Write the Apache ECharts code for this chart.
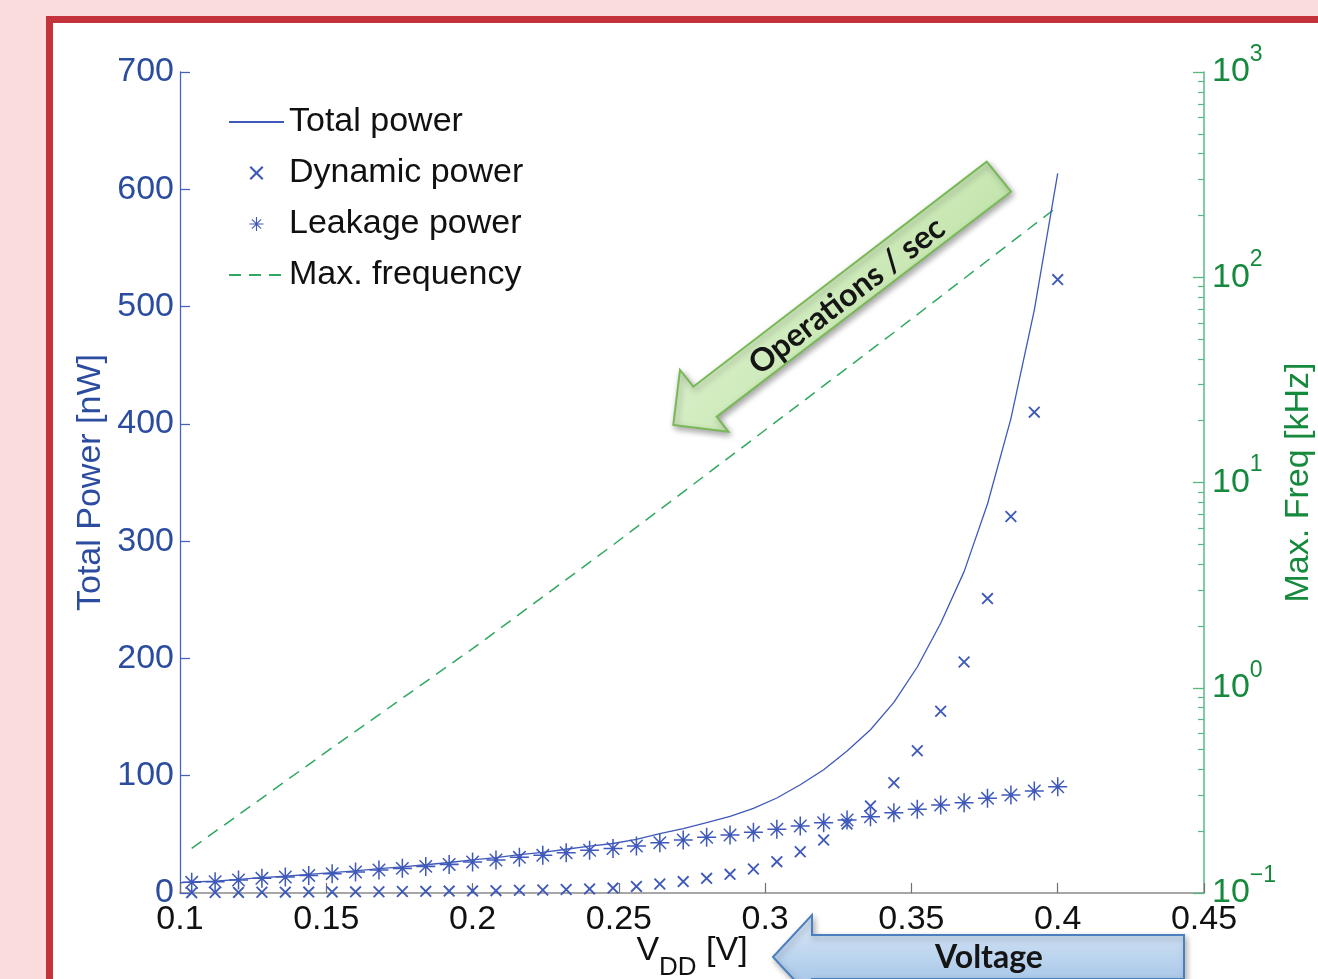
<!DOCTYPE html>
<html>
<head>
<meta charset="utf-8">
<script src="https://cdn.jsdelivr.net/npm/echarts@6/dist/echarts.min.js"></script>
<style>
  html, body { margin: 0; padding: 0; width: 1318px; height: 979px; overflow: hidden; background: #fbdcdc; }
  #frame { position: absolute; left: 46px; top: 16px; width: 1400px; height: 1100px; background: #ffffff; border: 7px solid #c4333b; box-sizing: border-box; }
  #chart { position: absolute; left: 0; top: 0; width: 1318px; height: 979px; }
</style>
</head>
<body>
<div id="frame"></div>
<div id="chart"></div>
<script>
// ---- data ----
const vdd = [0.104,0.112,0.120,0.128,0.136,0.144,0.152,0.160,0.168,0.176,0.184,0.192,0.200,0.208,0.216,0.224,0.232,0.240,0.248,0.256,0.264,0.272,0.280,0.288,0.296,0.304,0.312,0.320,0.328,0.336,0.344,0.352,0.360,0.368,0.376,0.384,0.392,0.400];
const dynamicPower = [0.3,0.4,0.5,0.6,0.7,0.8,0.9,1.0,1.1,1.3,1.4,1.6,1.8,2.0,2.3,2.6,3.0,3.5,4.2,5.6,7.7,9.7,12.5,15.9,20.5,26.7,35.2,45.2,58.8,74.2,94.0,121.3,155,197,251,321,410,523];
const leakagePower = [9.1,9.6,11.1,12.5,13.6,15.0,16.5,17.9,19.6,21.0,22.7,24.4,26.4,28.1,30.4,32.1,34.3,36.4,38.0,40.1,42.9,45.2,47.5,49.4,51.7,54.3,57.1,59.9,62.2,65.0,68.5,71.4,75.0,77.0,80.7,83.5,87.0,90.6];
const totalVdd = [0.100,0.104,0.112,0.120,0.128,0.136,0.144,0.152,0.160,0.168,0.176,0.184,0.192,0.200,0.208,0.216,0.224,0.232,0.240,0.248,0.256,0.264,0.272,0.280,0.288,0.296,0.304,0.312,0.320,0.328,0.336,0.344,0.352,0.360,0.368,0.376,0.384,0.392,0.400];
const totalPower = [8.6,9.4,10.0,11.6,13.1,14.3,15.8,17.4,18.9,20.7,22.3,24.1,26.0,28.2,30.1,32.7,34.7,37.3,39.9,42.2,45.7,50.6,54.9,60.0,65.3,72.2,81.0,92.3,105.1,121.0,139.2,162.5,192.7,230,274,331.7,404.5,497,613.6];
const freqVdd = [0.104,0.152,0.200,0.248,0.296,0.344,0.400];
const maxFreqKHz = [0.165,0.51,1.55,4.96,16.3,53.8,221];
const minorFreqTicks = [0.2,0.3,0.4,0.5,0.6,0.7,0.8,0.9,2,3,4,5,6,7,8,9,20,30,40,50,60,70,80,90,200,300,400,500,600,700,800,900];
const seriesNames = ['Total power','Dynamic power','Leakage power','Max. frequency'];
const xName = 'V';
const xNameSub = 'DD';
const xNameUnit = ' [V]';
const yLeftName = 'Total Power [nW]';
const yRightName = 'Max. Freq [kHz]';
const arrowLabels = ['Operations / sec', 'Voltage'];

const zip = (xs, ys) => xs.map((x, i) => [x, ys[i]]);

const BLUE = '#3f59ba';
const AXIS_BLUE = '#4a63c0';
const LABEL_BLUE = '#2b4c9f';
const GREEN_LINE = '#2fa862';
const AXIS_GREEN = '#58b882';
const LABEL_GREEN = '#15893c';
const FONT = '"Liberation Sans", Arial, sans-serif';

const xPath = 'path://M0,1.1L1.1,0L10,8.9L8.9,10Z M8.9,0L10,1.1L1.1,10L0,8.9Z';
const starPath = 'path://M0,9.2L20,9.2L20,10.8L0,10.8Z M9.2,0L10.8,0L10.8,20L9.2,20Z M2.9,4.0L4.0,2.9L17.1,16.0L16.0,17.1Z M16.0,2.9L17.1,4.0L4.0,17.1L2.9,16.0Z';

const chart = echarts.init(document.getElementById('chart'), null, { renderer: 'canvas' });

const option = {
  backgroundColor: 'transparent',
  animation: false,
  textStyle: { fontFamily: FONT },
  grid: { left: 180, right: 114, top: 72, bottom: 86, containLabel: false, outerBoundsMode: 'none' },
  legend: {
    orient: 'vertical',
    left: 223,
    top: 100,
    padding: 5,
    itemWidth: 55,
    itemHeight: 14,
    itemGap: 17,
    textStyle: { fontSize: 34, color: '#111', fontFamily: FONT, lineHeight: 34 },
    data: [
      { name: seriesNames[0] },
      { name: seriesNames[1], icon: xPath },
      { name: seriesNames[2], icon: starPath },
      { name: seriesNames[3] }
    ]
  },
  xAxis: {
    type: 'value',
    min: 0.1,
    max: 0.45,
    interval: 0.05,
    axisLine: { show: true, lineStyle: { color: '#8a8a8a', width: 1.5 } },
    axisTick: { show: true, inside: true, length: 10, lineStyle: { color: '#707070', width: 1.2 } },
    splitLine: { show: false },
    axisLabel: { color: '#111', fontSize: 34, fontFamily: FONT, margin: 10 },
    name: '{v|' + xName + '}{s|' + xNameSub + '}{v|' + xNameUnit + '}',
    nameLocation: 'middle',
    nameMoveOverlap: false,
    nameGap: 41,
    nameTextStyle: {
      color: '#111',
      fontFamily: FONT,
      rich: {
        v: { fontSize: 34, lineHeight: 34, color: '#111', fontFamily: FONT },
        s: { fontSize: 26, lineHeight: 26, padding: [33, 0, 0, 0], color: '#111', fontFamily: FONT }
      }
    }
  },
  yAxis: [
    {
      type: 'value',
      position: 'left',
      min: 0,
      max: 700,
      interval: 100,
      axisLine: { show: true, lineStyle: { color: AXIS_BLUE, width: 1.3 } },
      axisTick: { show: true, inside: true, length: 10, lineStyle: { color: AXIS_BLUE, width: 1.3 } },
      splitLine: { show: false },
      axisLabel: { color: LABEL_BLUE, fontSize: 34, fontFamily: FONT, margin: 6 },
      name: yLeftName,
      nameLocation: 'middle',
      nameMoveOverlap: false,
      nameGap: 72,
      nameTextStyle: { color: LABEL_BLUE, fontSize: 34, fontFamily: FONT }
    },
    {
      type: 'log',
      logBase: 10,
      position: 'right',
      min: 0.1,
      max: 1000,
      axisLine: { show: true, lineStyle: { color: AXIS_GREEN, width: 1.5 } },
      axisTick: { show: true, inside: true, length: 11, lineStyle: { color: AXIS_GREEN, width: 1.3 } },
      splitLine: { show: false },
      axisLabel: {
        margin: 8,
        formatter: function (v) {
          const e = Math.round(Math.log10(v));
          return '{b|10}{e|' + (e < 0 ? '\u2212' + Math.abs(e) : e) + '}';
        },
        rich: {
          b: { fontSize: 34, lineHeight: 34, color: LABEL_GREEN, fontFamily: FONT },
          e: { fontSize: 23, lineHeight: 23, padding: [0, 0, 35, 0], color: LABEL_GREEN, fontFamily: FONT }
        }
      },
      name: yRightName,
      nameLocation: 'middle',
      nameMoveOverlap: false,
      nameGap: 78,
      nameTextStyle: { color: LABEL_GREEN, fontSize: 34, fontFamily: FONT }
    },
    {
      type: 'log',
      logBase: 10,
      position: 'right',
      min: 0.1,
      max: 1000,
      axisLine: { show: false },
      axisLabel: { show: false },
      splitLine: { show: false },
      axisTick: { show: true, inside: true, length: 6, customValues: minorFreqTicks, lineStyle: { color: AXIS_GREEN, width: 1.2 } }
    }
  ],
  series: [
    {
      name: seriesNames[0],
      type: 'line',
      xAxisIndex: 0,
      yAxisIndex: 0,
      data: zip(totalVdd, totalPower),
      symbol: 'circle',
      showSymbol: false,
      lineStyle: { color: BLUE, width: 1.3 },
      itemStyle: { color: 'rgba(0,0,0,0)' },
      z: 3
    },
    {
      name: seriesNames[1],
      type: 'scatter',
      xAxisIndex: 0,
      yAxisIndex: 0,
      data: zip(vdd, dynamicPower),
      symbol: xPath,
      symbolSize: 12,
      itemStyle: { color: BLUE, opacity: 1 },
      z: 2
    },
    {
      name: seriesNames[2],
      type: 'scatter',
      xAxisIndex: 0,
      yAxisIndex: 0,
      data: zip(vdd, leakagePower),
      symbol: starPath,
      symbolSize: 19,
      itemStyle: { color: BLUE, opacity: 1 },
      z: 2
    },
    {
      name: seriesNames[3],
      type: 'line',
      xAxisIndex: 0,
      yAxisIndex: 1,
      data: zip(freqVdd, maxFreqKHz),
      symbol: 'circle',
      showSymbol: false,
      lineStyle: { color: GREEN_LINE, width: 1.5, type: [12, 8] },
      itemStyle: { color: 'rgba(0,0,0,0)' },
      z: 2
    }
  ],
  graphic: [
    {
      type: 'polygon',
      z: 100,
      shape: { points: [[986.7,161.7],[1011,191.7],[716.7,416.7],[728.3,431.7],[673.3,425],[680,370],[693.3,386.7]] },
      style: {
        fill: { type: 'linear', x: 0, y: 0, x2: 1, y2: 1, colorStops: [
          { offset: 0, color: '#eaf6e2' }, { offset: 0.5, color: '#cdeab9' }, { offset: 1, color: '#b0da93' } ] },
        stroke: '#78b955',
        lineWidth: 2,
        shadowBlur: 6,
        shadowOffsetX: 2,
        shadowOffsetY: 3,
        shadowColor: 'rgba(0,0,0,0.35)'
      }
    },
    {
      type: 'text',
      z: 101,
      x: 847,
      y: 296,
      rotation: 37.4 * Math.PI / 180,
      style: {
        text: arrowLabels[0],
        font: 'bold 32px Lato, "Open Sans", sans-serif',
        fill: '#151515',
        align: 'center',
        verticalAlign: 'middle'
      }
    },
    {
      type: 'polygon',
      z: 100,
      shape: { points: [[773,957],[812,915],[812,935],[1184,935],[1184,979],[812,979],[812,999]] },
      style: {
        fill: { type: 'linear', x: 0, y: 0, x2: 0, y2: 1, colorStops: [
          { offset: 0, color: '#dce9f7' }, { offset: 1, color: '#9cbfe6' } ] },
        stroke: '#4a80bf',
        lineWidth: 2,
        shadowBlur: 6,
        shadowOffsetX: 2,
        shadowOffsetY: 3,
        shadowColor: 'rgba(0,0,0,0.3)'
      }
    },
    {
      type: 'text',
      z: 101,
      x: 989,
      y: 958,
      style: {
        text: arrowLabels[1],
        font: 'bold 32px Lato, "Open Sans", sans-serif',
        fill: '#151515',
        align: 'center',
        verticalAlign: 'middle'
      }
    }
  ]
};

chart.setOption(option);
</script>
</body>
</html>
